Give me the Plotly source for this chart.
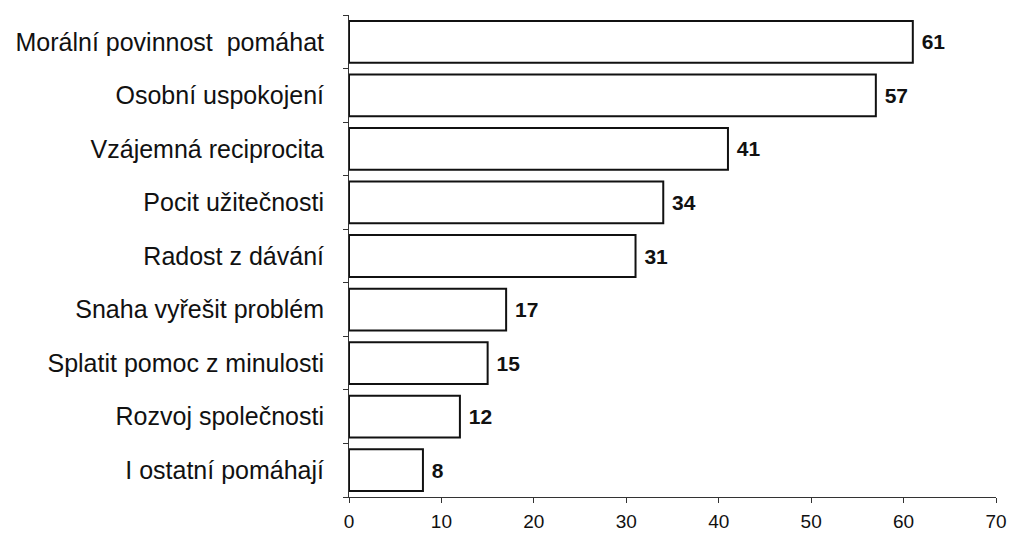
import plotly.graph_objects as go

# Motives for helping, share of respondents (%)
categories = [
    "Morální povinnost  pomáhat",
    "Osobní uspokojení",
    "Vzájemná reciprocita",
    "Pocit užitečnosti",
    "Radost z dávání",
    "Snaha vyřešit problém",
    "Splatit pomoc z minulosti",
    "Rozvoj společnosti",
    "I ostatní pomáhají",
]
values = [61, 57, 41, 34, 31, 17, 15, 12, 8]
x_ticks = [0, 10, 20, 30, 40, 50, 60, 70]

FONT = "Arial, 'Liberation Sans', sans-serif"

fig = go.Figure(
    go.Bar(
        x=values,
        y=categories,
        orientation="h",
        marker=dict(color="white", line=dict(color="#111111", width=2)),
        text=[f"<b>{v}</b>" for v in values],
        texttemplate=" %{text}",
        textposition="outside",
        textfont=dict(family=FONT, size=21, color="#111111"),
        cliponaxis=False,
        constraintext="none",
    )
)

fig.update_layout(
    width=1010,
    height=535,
    margin=dict(l=349, r=14, t=15, b=38, autoexpand=False),
    paper_bgcolor="white",
    plot_bgcolor="white",
    showlegend=False,
    bargap=0.22,
    font=dict(family=FONT, color="#111111"),
)

fig.update_xaxes(
    range=[0, 70],
    tickvals=x_ticks,
    ticks="outside",
    ticklen=5,
    tickcolor="#333333",
    showline=True,
    linecolor="#333333",
    linewidth=1,
    showgrid=False,
    zeroline=False,
    automargin=False,
    tickfont=dict(size=19, family=FONT, color="#111111"),
    ticklabelstandoff=2,
)

fig.update_yaxes(
    categoryorder="array",
    categoryarray=categories[::-1],
    autorange=False,
    range=[-0.5, 8.5],
    ticks="outside",
    tickson="boundaries",
    ticklen=5,
    tickcolor="#333333",
    showline=True,
    linecolor="#333333",
    linewidth=1,
    showgrid=False,
    zeroline=False,
    automargin=False,
    tickfont=dict(size=25, family=FONT, color="#111111"),
    ticklabelstandoff=19,
)

fig.write_html("out.html")
